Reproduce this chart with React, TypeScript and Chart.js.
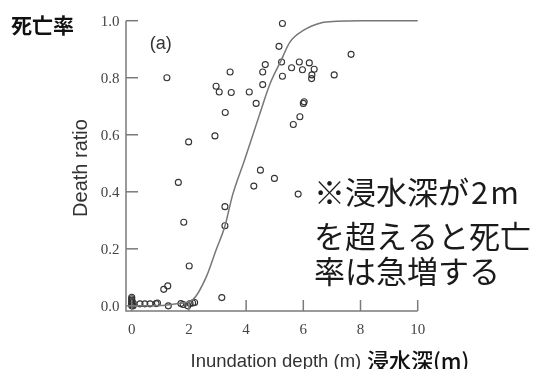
import { useEffect, useRef } from "react";
import { Chart, registerables } from "chart.js";

Chart.register(...registerables);

// ---- data ----
const depthValues = [
  0, 0, 0, 0, 0, 0, 0, 0.05, 0.05,
  0.29, 0.46, 0.64, 0.85, 0.9, 1.28, 1.72, 1.8, 1.96, 2.04, 2.13, 2.2,
  1.12, 1.26, 2.01, 1.82, 1.63, 3.15, 3.26, 3.26,
  4.27, 4.5, 4.99, 5.82,
  1.23, 1.99, 2.91, 3.27, 2.95, 3.06, 3.44, 3.48, 4.11, 4.35, 4.58, 4.58, 4.67,
  5.15, 5.27, 5.24, 5.27, 5.59, 5.86, 5.97, 6.21, 6.38, 6.3, 6.29, 7.08, 7.67,
  6.0, 6.03, 5.88, 5.65,
];
const ratioValues = [
  0.0, 0.005, 0.01, 0.015, 0.02, 0.025, 0.03, 0.0, 0.01,
  0.007, 0.007, 0.007, 0.008, 0.01, 0.0, 0.008, 0.005, 0.0, 0.008, 0.01, 0.012,
  0.058, 0.07, 0.14, 0.293, 0.433, 0.029, 0.281, 0.348,
  0.42, 0.476, 0.447, 0.392,
  0.8, 0.575, 0.596, 0.678, 0.77, 0.75, 0.82, 0.748, 0.75, 0.71, 0.776, 0.82, 0.846,
  0.91, 0.99, 0.855, 0.805, 0.835, 0.855, 0.828, 0.852, 0.83, 0.81, 0.797, 0.81, 0.882,
  0.71, 0.716, 0.663, 0.636,
];
const curveDepth = [0, 1.0, 1.3, 1.7, 2.13, 2.6, 2.95, 3.26, 3.53, 3.94, 4.46, 4.84, 5.22, 5.53, 6.0, 6.64, 7.17, 8, 10];
const curveRatio = [0, 0.001, 0.004, 0.009, 0.021, 0.1, 0.196, 0.28, 0.39, 0.51, 0.668, 0.78, 0.86, 0.925, 0.966, 0.993, 0.998, 1.0, 1.0];

const xTickValues = [0, 2, 4, 6, 8, 10];
const xTickLabels = ["0", "2", "4", "6", "8", "10"];
const yTickValues = [0, 0.2, 0.4, 0.6, 0.8, 1.0];
const yTickLabels = ["0.0", "0.2", "0.4", "0.6", "0.8", "1.0"];

const xTitle = "Inundation depth (m)";
const yTitle = "Death ratio";
const panelLabel = "(a)";
const yNoteJa = "死亡率";
const xNoteJa = "浸水深(m)";
const noteFirstHead = "※浸水深が";
const noteFirstTail = "2m";
const noteLines = ["を超えると死亡", "率は急増する"];

const SERIF = '"Liberation Serif", "DejaVu Serif", serif';
const SANS = '"Liberation Sans", Arial, sans-serif';
const CJK = '"Noto Sans CJK JP", "Noto Sans", sans-serif';

const decorPlugin = {
  id: "decor",
  afterDraw(chart: any) {
    const { ctx, chartArea, scales } = chart;
    const xs = scales.x;
    const ys = scales.y;
    const left = chartArea.left;
    const bottom = chartArea.bottom;
    ctx.save();

    // axis lines (L-shape)
    ctx.strokeStyle = "#7a7a7a";
    ctx.lineWidth = 1.5;
    ctx.beginPath();
    ctx.moveTo(left, ys.getPixelForValue(yTickValues[yTickValues.length - 1]));
    ctx.lineTo(left, bottom);
    ctx.lineTo(xs.getPixelForValue(xTickValues[xTickValues.length - 1]), bottom);
    ctx.stroke();

    // y ticks (inward) + labels
    ctx.font = `15px ${SERIF}`;
    ctx.fillStyle = "#444";
    ctx.textAlign = "right";
    ctx.textBaseline = "middle";
    yTickValues.forEach((v, i) => {
      const py = ys.getPixelForValue(v);
      ctx.beginPath();
      ctx.moveTo(left, py);
      ctx.lineTo(left + 12, py);
      ctx.stroke();
      ctx.fillText(yTickLabels[i], left - 6.5, py + 1);
    });

    // x ticks (inward) + labels
    ctx.textAlign = "center";
    xTickValues.forEach((v, i) => {
      const px = xs.getPixelForValue(v);
      ctx.beginPath();
      ctx.moveTo(px, bottom);
      ctx.lineTo(px, bottom - 11);
      ctx.stroke();
      ctx.fillText(xTickLabels[i], px, bottom + 19);
    });

    // axis titles
    ctx.fillStyle = "#333";
    ctx.font = `18.5px ${SANS}`;
    ctx.textAlign = "left";
    ctx.textBaseline = "alphabetic";
    ctx.fillText(xTitle, 190.5, 366.5);

    ctx.save();
    ctx.translate(87, 168);
    ctx.rotate(-Math.PI / 2);
    ctx.font = `20px ${SANS}`;
    ctx.textAlign = "center";
    ctx.textBaseline = "alphabetic";
    ctx.fillText(yTitle, 0, 0);
    ctx.restore();

    // panel label
    ctx.font = `18px ${SANS}`;
    ctx.textAlign = "center";
    ctx.textBaseline = "middle";
    ctx.fillText(panelLabel, 160.7, 44.5);

    // Japanese annotations
    ctx.fillStyle = "#111";
    ctx.textAlign = "left";
    ctx.textBaseline = "middle";
    ctx.font = `bold 21px ${CJK}`;
    ctx.fillText(yNoteJa, 11, 25);
    ctx.font = `500 22px ${CJK}`;
    ctx.fillText(xNoteJa, 367, 361);

    ctx.fillStyle = "#1a1a1a";
    ctx.font = `31px ${CJK}`;
    ctx.fillText(noteFirstHead, 314, 192);
    const headW = ctx.measureText(noteFirstHead).width;
    ctx.save();
    (ctx as any).letterSpacing = "2px";
    ctx.fillText(noteFirstTail, 314 + headW + 2, 192);
    ctx.restore();
    const lineYs = [236.7, 271];
    noteLines.forEach((t, i) => ctx.fillText(t, 314, lineYs[i]));

    ctx.restore();
  },
};

export default function App() {
  const ref = useRef<HTMLCanvasElement | null>(null);

  useEffect(() => {
    if (!ref.current) return;
    const points = depthValues.map((d, i) => ({ x: d, y: ratioValues[i] }));
    const curve = curveDepth.map((d, i) => ({ x: d, y: curveRatio[i] }));
    const chart = new Chart(ref.current, {
      type: "scatter",
      data: {
        datasets: [
          {
            type: "line",
            data: curve,
            borderColor: "#777",
            borderWidth: 1.5,
            pointRadius: 0,
            fill: false,
            cubicInterpolationMode: "monotone",
            clip: false,
          } as any,
          {
            type: "scatter",
            data: points,
            pointStyle: "circle",
            pointRadius: 3,
            backgroundColor: "rgba(0,0,0,0)",
            borderColor: "#333",
            borderWidth: 1.1,
            clip: false,
          } as any,
        ],
      },
      options: {
        responsive: false,
        animation: false,
        layout: { padding: { left: 126, right: 126.3, top: 20.7, bottom: 58 } },
        scales: {
          x: { type: "linear", min: -0.2, max: 10, display: false },
          y: { type: "linear", min: -0.018, max: 1.0, display: false },
        },
        plugins: { legend: { display: false }, tooltip: { enabled: false } },
      },
      plugins: [decorPlugin],
    });
    return () => chart.destroy();
  }, []);

  return (
    <div style={{ position: "absolute", left: 0, top: 0, width: 544, height: 369, background: "#fff" }}>
      <canvas ref={ref} width={544} height={369} style={{ display: "block", width: 544, height: 369 }} />
    </div>
  );
}
